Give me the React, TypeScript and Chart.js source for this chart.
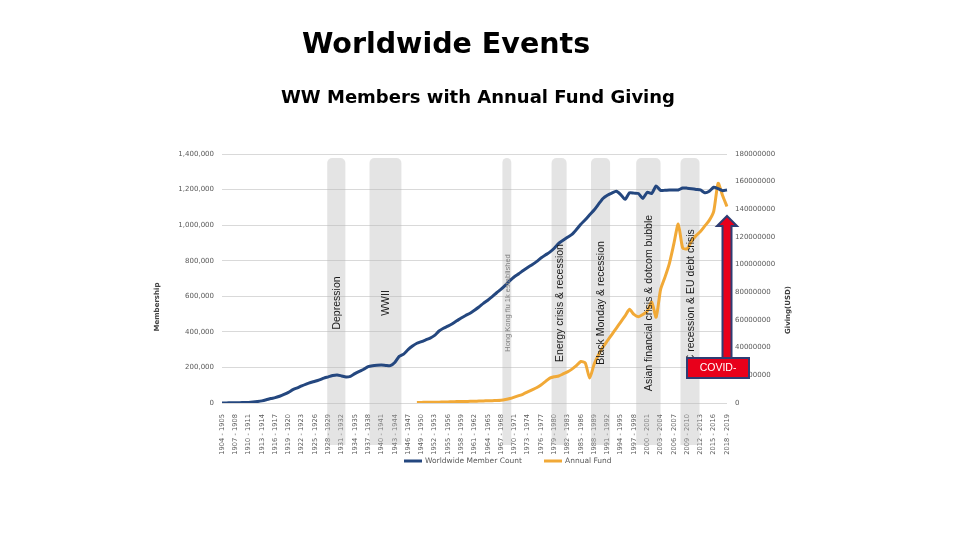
import { useEffect, useRef } from 'react';
import { Chart, registerables } from 'chart.js';

Chart.register(...registerables);

// ---------- DATA ----------
const firstYear = 1904;
const lastYear = 2018;
const seasons: string[] = [];
for (let y = firstYear; y <= lastYear; y++) seasons.push(`${y} - ${y + 1}`);

const memberCount: number[] = [
  0, 500, 1000, 1500, 2000, 2500, 3000, 5000, 8000, 12000,
  18000, 25000, 30000, 38000, 48000, 60000, 75000, 85000, 96000, 106000,
  115000, 122000, 130000, 140000, 147000, 155000, 158000, 152000, 146000, 150000,
  165000, 178000, 190000, 205000, 210000, 212000, 213000, 211000, 210000, 228000,
  262000, 275000, 300000, 320000, 336000, 345000, 355000, 365000, 380000, 405000,
  420000, 432000, 446000, 462000, 478000, 492000, 505000, 522000, 540000, 560000,
  578000, 598000, 620000, 640000, 663000, 688000, 710000, 727000, 745000, 762000,
  778000, 795000, 815000, 832000, 848000, 870000, 898000, 915000, 932000, 948000,
  975000, 1005000, 1030000, 1058000, 1085000, 1118000, 1150000, 1168000, 1180000, 1190000,
  1172000, 1145000, 1182000, 1180000, 1178000, 1150000, 1185000, 1178000, 1220000, 1195000,
  1196000, 1198000, 1197000, 1198000, 1209000, 1208000, 1205000, 1201000, 1198000, 1182000,
  1190000, 1213000, 1205000, 1194000, 1198000,
];

// Annual Fund giving in millions of USD (null = no giving recorded)
const annualFundMillions: (number | null)[] = [
  null, null, null, null, null, null, null, null, null, null,
  null, null, null, null, null, null, null, null, null, null,
  null, null, null, null, null, null, null, null, null, null,
  null, null, null, null, null, null, null, null, null, null,
  null, null, null, null, 0.3, 0.4, 0.5, 0.5, 0.6, 0.6,
  0.7, 0.8, 0.9, 1.0, 1.0, 1.1, 1.2, 1.3, 1.4, 1.5,
  1.6, 1.7, 1.8, 2.0, 2.5, 3.2, 4.2, 5.3, 6.5, 8.0,
  9.5, 11.0, 13.0, 15.5, 18.0, 19.0, 19.5, 21.0, 22.5, 24.5,
  27.0, 30.0, 29.0, 18.0, 28.0, 35.0, 40.5, 45.0, 49.5, 54.0,
  58.5, 63.0, 67.7, 64.0, 62.4, 64.0, 66.5, 73.0, 62.0, 82.0,
  91.0, 101.0, 115.0, 129.4, 112.0, 111.5, 117.0, 121.0, 124.0, 128.0,
  132.0, 138.5, 158.8, 150.0, 142.0,
];

const eventNames = [
  'Depression',
  'WWII',
  'Hong Kong flu 1k established',
  'Energy crisis & recession',
  'Black Monday & recession',
  'Asian financial crisis & dotcom bubble',
  'GFC recession & EU debt crisis',
];
const eventStartYear = [1927.75, 1937.3, 1967.3, 1978.4, 1987.3, 1997.5, 2007.5];
const eventEndYear = [1931.85, 1944.5, 1969.3, 1981.8, 1991.6, 2003.0, 2011.8];

const leftTicksMax = 1400000;
const leftTicksStep = 200000;
const rightTicksMax = 180000000;
const rightTicksStep = 20000000;

const titleText = 'Worldwide Events';
const subtitleText = 'WW Members with Annual Fund Giving';
const leftAxisTitle = 'Membership';
const rightAxisTitle = 'Giving(USD)';
const seriesNames = ['Worldwide Member Count', 'Annual Fund'];
const covidText = 'COVID-';

// ---------- STYLE ----------
const BLUE = '#24477f';
const GOLD = '#f1a937';
const TICK_COLOR = '#595959';

const overlayPlugin = {
  id: 'overlay',
  beforeDatasetsDraw(chart: any) {
    const { ctx, chartArea, scales } = chart;
    const xs = scales.x;
    ctx.save();
    ctx.fillStyle = 'rgba(185,185,185,0.38)';
    for (let i = 0; i < eventNames.length; i++) {
      const x0 = xs.getPixelForValue(eventStartYear[i] - firstYear);
      const x1 = xs.getPixelForValue(eventEndYear[i] - firstYear);
      const top = chartArea.top + 4;
      const bottom = chartArea.bottom + 42;
      ctx.beginPath();
      (ctx as any).roundRect(x0, top, x1 - x0, bottom - top, [5, 5, 0, 0]);
      ctx.fill();
    }
    ctx.restore();
  },
  afterDatasetsDraw(chart: any) {
    const { ctx, chartArea, scales } = chart;
    const xs = scales.x;
    const cy = chartArea.top + 149;
    for (let i = 0; i < eventNames.length; i++) {
      const x0 = xs.getPixelForValue(eventStartYear[i] - firstYear);
      const x1 = xs.getPixelForValue(eventEndYear[i] - firstYear);
      const cx = (x0 + x1) / 2 + 1;
      ctx.save();
      ctx.translate(cx, cy);
      ctx.rotate(-Math.PI / 2);
      ctx.textAlign = 'center';
      ctx.textBaseline = 'middle';
      if (i === 2) {
        ctx.fillStyle = '#808080';
        ctx.font = '7.5px "Liberation Sans"';
      } else {
        ctx.fillStyle = '#1a1a1a';
        ctx.font = '10.5px "Liberation Sans"';
      }
      ctx.fillText(eventNames[i], 0, 0);
      ctx.restore();
    }
  },
  afterDraw(chart: any) {
    const { ctx, chartArea } = chart;
    ctx.save();
    // titles
    ctx.fillStyle = '#000';
    ctx.textAlign = 'center';
    ctx.textBaseline = 'alphabetic';
    ctx.font = 'bold 28.5px "DejaVu Sans"';
    ctx.fillText(titleText, 446, 53);
    ctx.font = 'bold 18px "DejaVu Sans"';
    ctx.fillText(subtitleText, 478, 102.5);

    // axis titles
    ctx.font = 'bold 7px "DejaVu Sans"';
    ctx.fillStyle = '#404040';
    ctx.textBaseline = 'middle';
    ctx.save();
    ctx.translate(157, 307);
    ctx.rotate(-Math.PI / 2);
    ctx.fillText(leftAxisTitle, 0, 0);
    ctx.restore();
    ctx.save();
    ctx.translate(788, 310);
    ctx.rotate(-Math.PI / 2);
    ctx.fillText(rightAxisTitle, 0, 0);
    ctx.restore();

    // legend
    const ly = 461;
    const items = [
      { x: 404, color: BLUE, text: seriesNames[0] },
      { x: 544, color: GOLD, text: seriesNames[1] },
    ];
    ctx.font = '7.5px "DejaVu Sans"';
    ctx.textAlign = 'left';
    for (const it of items) {
      ctx.strokeStyle = it.color;
      ctx.lineWidth = 3;
      ctx.beginPath();
      ctx.moveTo(it.x, ly);
      ctx.lineTo(it.x + 18, ly);
      ctx.stroke();
      ctx.fillStyle = TICK_COLOR;
      ctx.fillText(it.text, it.x + 21, ly + 0.5);
    }

    // COVID arrow
    const xc = chartArea.right;
    const tip = chartArea.top + 62;
    const headBase = chartArea.top + 72;
    const shaftBottom = chartArea.top + 204;
    ctx.beginPath();
    ctx.moveTo(xc - 4.5, shaftBottom);
    ctx.lineTo(xc - 4.5, headBase);
    ctx.lineTo(xc - 10, headBase);
    ctx.lineTo(xc, tip);
    ctx.lineTo(xc + 10, headBase);
    ctx.lineTo(xc + 4.5, headBase);
    ctx.lineTo(xc + 4.5, shaftBottom);
    ctx.closePath();
    ctx.fillStyle = '#e8001b';
    ctx.fill();
    ctx.strokeStyle = '#2e3d73';
    ctx.lineWidth = 2;
    ctx.stroke();

    // COVID box
    const bx = chartArea.right - 40;
    const by = shaftBottom;
    const bw = 62;
    const bh = 20;
    ctx.fillStyle = '#e8001b';
    ctx.fillRect(bx, by, bw, bh);
    ctx.strokeStyle = '#2e3d73';
    ctx.lineWidth = 2;
    ctx.strokeRect(bx, by, bw, bh);
    ctx.fillStyle = '#ffffff';
    ctx.font = '10.5px "Liberation Sans"';
    ctx.textAlign = 'center';
    ctx.textBaseline = 'middle';
    ctx.fillText(covidText, bx + bw / 2, by + bh / 2 + 0.5);
    ctx.restore();
  },
};

export default function App() {
  const ref = useRef<HTMLCanvasElement>(null);

  useEffect(() => {
    const canvas = ref.current;
    if (!canvas) return;
    const chart = new Chart(canvas, {
      type: 'line',
      data: {
        labels: seasons,
        datasets: [
          {
            label: seriesNames[0],
            data: memberCount,
            borderColor: BLUE,
            backgroundColor: BLUE,
            borderWidth: 3,
            pointRadius: 0,
            tension: 0.2,
            yAxisID: 'y',
            order: 1,
          },
          {
            label: seriesNames[1],
            data: annualFundMillions.map((v) => (v === null ? null : v * 1000000)),
            borderColor: GOLD,
            backgroundColor: GOLD,
            borderWidth: 3,
            pointRadius: 0,
            tension: 0.2,
            yAxisID: 'y1',
            order: 2,
          },
        ],
      },
      options: {
        responsive: false,
        animation: false,
        devicePixelRatio: 1,
        layout: { padding: { left: 150, right: 173, top: 154, bottom: 82 } },
        plugins: {
          legend: { display: false },
          title: { display: false },
          tooltip: { enabled: false },
        },
        scales: {
          x: {
            grid: { display: false },
            border: { display: false },
            ticks: {
              autoSkip: false,
              minRotation: 90,
              maxRotation: 90,
              padding: 3,
              color: TICK_COLOR,
              font: { family: 'DejaVu Sans', size: 6.7 },
              callback: (_v: any, i: number) => (i % 3 === 0 ? seasons[i] : null),
            },
            afterFit: (s: any) => {
              s.height = 55;
            },
          },
          y: {
            position: 'left',
            min: 0,
            max: leftTicksMax,
            grid: { color: '#d9d9d9', lineWidth: 1, drawTicks: false },
            border: { display: false },
            ticks: {
              stepSize: leftTicksStep,
              padding: 8,
              color: TICK_COLOR,
              font: { family: 'DejaVu Sans', size: 7 },
              callback: (v: any) => Number(v).toLocaleString('en-US'),
            },
            afterFit: (s: any) => {
              s.width = 72;
            },
          },
          y1: {
            position: 'right',
            min: 0,
            max: rightTicksMax,
            grid: { display: false, drawTicks: false },
            border: { display: false },
            ticks: {
              stepSize: rightTicksStep,
              padding: 8,
              color: TICK_COLOR,
              font: { family: 'DejaVu Sans', size: 7 },
              callback: (v: any) => String(v),
            },
            afterFit: (s: any) => {
              s.width = 60;
            },
          },
        },
      },
      plugins: [overlayPlugin],
    });
    return () => chart.destroy();
  }, []);

  return (
    <div style={{ position: 'fixed', left: 0, top: 0, width: 960, height: 540, background: '#fff' }}>
      <canvas ref={ref} width={960} height={540} style={{ width: 960, height: 540, display: 'block' }} />
    </div>
  );
}
